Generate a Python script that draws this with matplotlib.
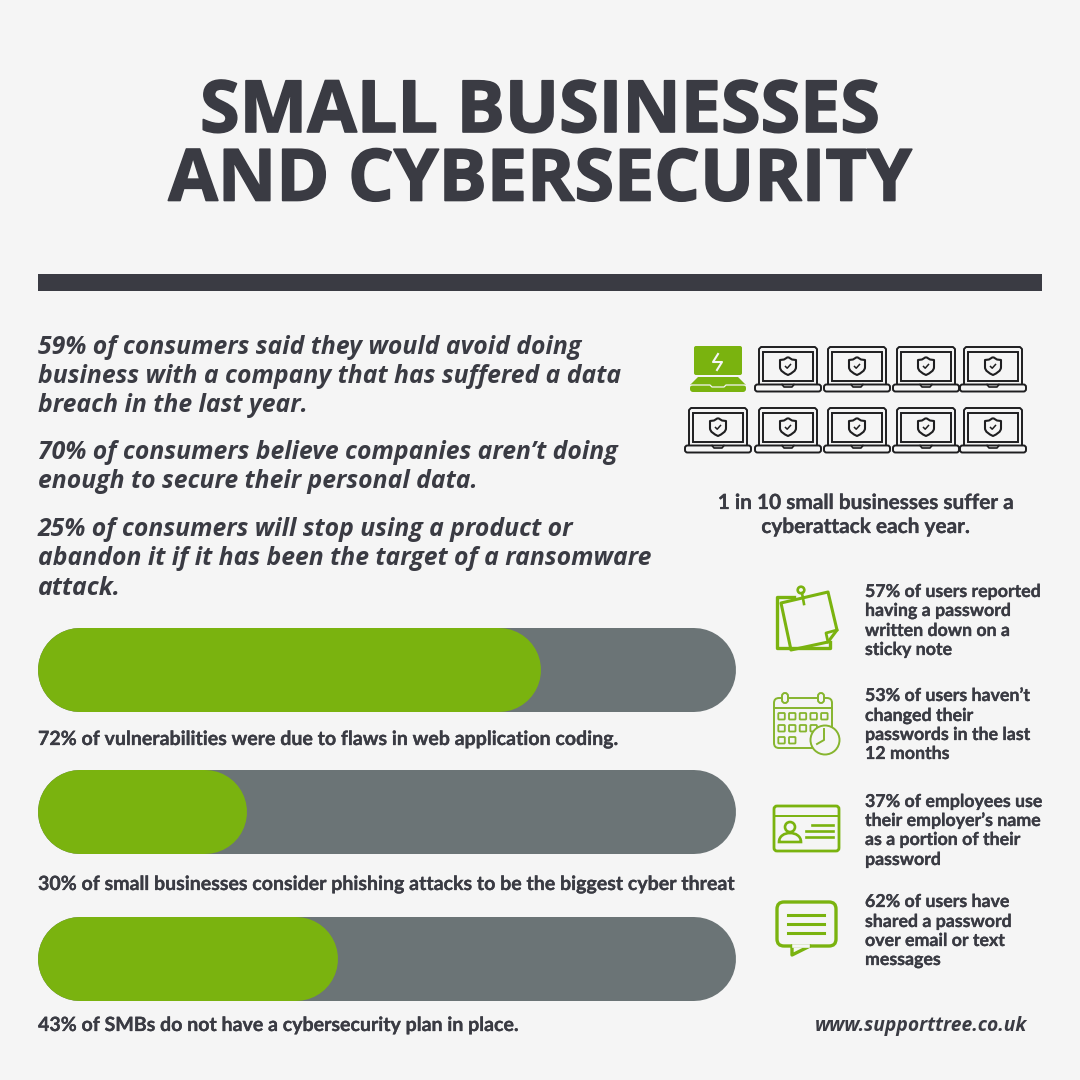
import matplotlib
matplotlib.use('Agg')
import matplotlib.pyplot as plt
import matplotlib.patheffects as pe
from matplotlib.patches import FancyBboxPatch, Circle, Polygon, PathPatch
from matplotlib.path import Path

# colours
BG = '#f5f5f5'
DARK = '#3a3b43'
GREEN = '#7ab30f'
LIGHT_GREEN = '#86b52e'
GREY = '#6b7476'
BLACK = '#1e1e20'

title_lines = ['SMALL BUSINESSES', 'AND CYBERSECURITY']

intro_lines = [
    '59% of consumers said they would avoid doing',
    'business with a company that has suffered a data',
    'breach in the last year.',
    '70% of consumers believe companies aren’t doing',
    'enough to secure their personal data.',
    '25% of consumers will stop using a product or',
    'abandon it if it has been the target of a ransomware',
    'attack.',
]

bar_values = [72, 30, 43]
bar_labels = [
    '72% of vulnerabilities were due to flaws in web application coding.',
    '30% of small businesses consider phishing attacks to be the biggest cyber threat',
    '43% of SMBs do not have a cybersecurity plan in place.',
]

attacked = 1
businesses = 10
attack_caption = ['1 in 10 small businesses suffer a', 'cyberattack each year.']

stats = [
    ['57% of users reported', 'having a password', 'written down on a', 'sticky note'],
    ['53% of users haven’t', 'changed their', 'passwords in the last', '12 months'],
    ['37% of employees use', 'their employer’s name', 'as a portion of their', 'password'],
    ['62% of users have', 'shared a password', 'over email or text', 'messages'],
]

website = 'www.supporttree.co.uk'

# slight outline, the reference fonts are heavier than the installed bold
thick = [pe.withStroke(linewidth=1.2, foreground=DARK)]
semi = [pe.withStroke(linewidth=0.2, foreground=DARK)]


def rbox(ax, x, y, w, h, r, **kw):
    p = FancyBboxPatch((x, y), w, h, boxstyle=f'round,pad=0,rounding_size={r}', **kw)
    ax.add_patch(p)
    return p


def pill(ax, x0, x1, y, h, color):
    # round caps give true half circles at both ends
    ax.plot([x0 + h / 2, x1 - h / 2], [y, y], color=color, lw=h * 0.72, solid_capstyle='round')


def shield(ax, cx, cy, color, lw=1.5):
    verts = [(cx, cy - 9), (cx - 4, cy - 6.5), (cx - 8, cy - 6), (cx - 8, cy + 1),
             (cx - 8, cy + 5), (cx - 4, cy + 7), (cx, cy + 9),
             (cx + 4, cy + 7), (cx + 8, cy + 5), (cx + 8, cy + 1),
             (cx + 8, cy - 6), (cx + 4, cy - 6.5), (cx, cy - 9)]
    codes = [Path.MOVETO, Path.LINETO, Path.LINETO, Path.LINETO,
             Path.CURVE4, Path.CURVE4, Path.CURVE4,
             Path.CURVE4, Path.CURVE4, Path.CURVE4,
             Path.LINETO, Path.LINETO, Path.LINETO]
    ax.add_patch(PathPatch(Path(verts, codes), fc='none', ec=color, lw=lw, joinstyle='round'))
    ax.plot([cx - 2.5, cx - 0.8, cx + 2.5], [cy + 0.5, cy + 2.2, cy - 1.5], color=color, lw=1.1)


def laptop(ax, cx, top, hit=False):
    if hit:
        rbox(ax, cx - 24, top - 1, 48, 29, 2, fc=GREEN, ec='none')
        ax.add_patch(Polygon([(cx - 20, top + 30), (cx + 20, top + 30), (cx + 28, top + 38),
                              (cx - 28, top + 38)], fc=GREEN, ec='none'))
        rbox(ax, cx - 28, top + 38, 56, 7, 3, fc=GREEN, ec='none')
        ax.plot([cx - 27, cx - 8, cx - 6, cx + 6, cx + 8, cx + 27],
                [top + 38, top + 38, top + 40, top + 40, top + 38, top + 38], color=BG, lw=0.9)
        ax.plot([cx, cx - 5, cx + 4, cx - 1], [top + 7, top + 15, top + 15, top + 23], color=BG, lw=1.5)
        return
    ax.plot([cx - 29, cx - 29, cx - 27, cx + 27, cx + 29, cx + 29],
            [top + 37, top + 2, top, top, top + 2, top + 37], color=BLACK, lw=1.4)
    ax.add_patch(plt.Rectangle((cx - 25, top + 5), 50, 29, fc='none', ec=BLACK, lw=1.4))
    rbox(ax, cx - 33, top + 37.5, 66, 7, 2.5, fc='none', ec=BLACK, lw=1.4)
    ax.plot([cx - 6, cx - 4, cx + 4, cx + 6], [top + 37.5, top + 40, top + 40, top + 37.5],
            color=BLACK, lw=1.2)
    shield(ax, cx, top + 19, BLACK)


def note_icon(ax, x, y):
    ax.plot([x + 17, x, x, x + 53, x + 53], [y + 5, y + 5, y + 56, y + 56, y + 50],
            color=GREEN, lw=2.4)
    ax.add_patch(Polygon([(x + 4, y + 11), (x + 51, y), (x + 60, y + 38), (x + 51, y + 50),
                          (x + 14, y + 58)], fc=BG, ec=GREEN, lw=2.2, joinstyle='round'))
    ax.plot([x + 60, x + 49, x + 51], [y + 38, y + 41, y + 50], color=GREEN, lw=2)
    ax.add_patch(Circle((x + 24, y - 2), 3.3, fc='none', ec=GREEN, lw=1.9))
    ax.plot([x + 25, x + 27], [y + 1, y + 12], color=GREEN, lw=1.9)


def calendar_icon(ax, x, y):
    c = LIGHT_GREEN
    rbox(ax, x, y + 5, 58, 50, 5, fc='none', ec=c, lw=1.4)
    ax.plot([x, x + 58], [y + 15, y + 15], color=c, lw=1.4)
    for dx in (11, 47):
        rbox(ax, x + dx - 3, y, 6, 10, 3, fc=BG, ec=c, lw=1.4)
    for row, n in enumerate((5, 4, 2)):
        for col in range(n):
            rbox(ax, x + 4.3 + col * 10.7, y + 20 + row * 12, 6.5, 6.5, 0.8, fc='none', ec=c, lw=1.3)
    ax.add_patch(Circle((x + 51, y + 47), 14.5, fc=BG, ec=c, lw=1.4))
    ax.plot([x + 50, x + 50, x + 43], [y + 36, y + 47, y + 51], color=c, lw=1.4)


def card_icon(ax, x, y):
    rbox(ax, x, y, 65, 45, 3, fc='none', ec=GREEN, lw=2)
    ax.plot([x, x + 65], [y + 10, y + 10], color=GREEN, lw=1.4)
    ax.add_patch(Circle((x + 16, y + 21), 5, fc='none', ec=GREEN, lw=1.9))
    verts = [(x + 5, y + 36), (x + 5, y + 24), (x + 27, y + 24), (x + 27, y + 36), (x + 5, y + 36)]
    codes = [Path.MOVETO, Path.CURVE4, Path.CURVE4, Path.CURVE4, Path.CLOSEPOLY]
    ax.add_patch(PathPatch(Path(verts, codes), fc='none', ec=GREEN, lw=1.9))
    ax.plot([x + 38, x + 59], [y + 19, y + 19], color=GREEN, lw=1.9)
    ax.plot([x + 32, x + 59], [y + 25, y + 25], color=GREEN, lw=1.9)
    ax.plot([x + 32, x + 59], [y + 31, y + 31], color=GREEN, lw=1.9)


def chat_icon(ax, x, y):
    ax.add_patch(Polygon([(x + 15, y + 44), (x + 15, y + 53), (x + 33, y + 44)], fc=BG, ec=GREEN,
                         lw=2.4, joinstyle='round', zorder=3))
    rbox(ax, x, y, 59, 44, 7, fc='none', ec=GREEN, lw=2.4, zorder=2)
    ax.plot([x + 16.5, x + 31], [y + 44, y + 44], color=BG, lw=2.6, zorder=4)
    for dy in (13, 22, 31):
        ax.plot([x + 11, x + 47], [y + dy, y + dy], color=GREEN, lw=2.2)


fig = plt.figure(figsize=(10.8, 10.8), dpi=100, facecolor=BG)
ax = fig.add_axes([0, 0, 1, 1])
ax.set_xlim(0, 1080)
ax.set_ylim(1080, 0)
ax.axis('off')

# title and rule
for line, base in zip(title_lines, [132, 200.5]):
    ax.text(540, base, line, ha='center', va='baseline', family='Open Sans', weight='bold',
            fontsize=51.7, color=DARK, path_effects=thick)
ax.add_patch(plt.Rectangle((38, 274), 1004, 17, fc=DARK, ec='none'))

# intro paragraphs
for line, base in zip(intro_lines, [354, 383, 412, 459, 488, 536, 565, 595]):
    ax.text(38, base, line, va='baseline', family='Open Sans', weight='bold', style='italic',
            fontsize=17.85, color=DARK)

# progress bars
bar_x, bar_w, bar_h = 38, 698, 84
for val, label, top, base in zip(bar_values, bar_labels, [628, 770, 917], [745, 890, 1031]):
    pill(ax, bar_x, bar_x + bar_w, top + bar_h / 2, bar_h, GREY)
    pill(ax, bar_x, bar_x + bar_w * val / 100, top + bar_h / 2, bar_h, GREEN)
    ax.text(bar_x, base, label, va='baseline', family='Lato', weight='bold', fontsize=14.1,
            color=DARK, path_effects=semi)

# laptops, 5 per row
col_x = [718, 788, 857, 926, 993]
row_top = [347, 408]
for i in range(businesses):
    laptop(ax, col_x[i % 5], row_top[i // 5], hit=i < attacked)

for line, base in zip(attack_caption, [509, 533]):
    ax.text(866, base, line, ha='center', va='baseline', family='Lato', weight='bold',
            fontsize=15, color=DARK, path_effects=semi)

# password stats
icons = [(note_icon, 777, 592), (calendar_icon, 774, 693), (card_icon, 774, 806), (chat_icon, 777, 902)]
bases = [[597, 616, 636, 655], [701, 721, 740, 759], [807, 826, 845, 865], [907, 927, 946, 965]]
for lines, (icon, ix, iy), ys in zip(stats, icons, bases):
    icon(ax, ix, iy)
    for line, base in zip(lines, ys):
        ax.text(865, base, line, va='baseline', family='Lato', weight='bold', fontsize=12.8,
                color=DARK, path_effects=semi)

ax.text(1027, 1031, website, ha='right', va='baseline', family='Open Sans', weight='bold',
        style='italic', fontsize=13.9, color=DARK)

fig.savefig('out.png', dpi=100, facecolor=BG)
